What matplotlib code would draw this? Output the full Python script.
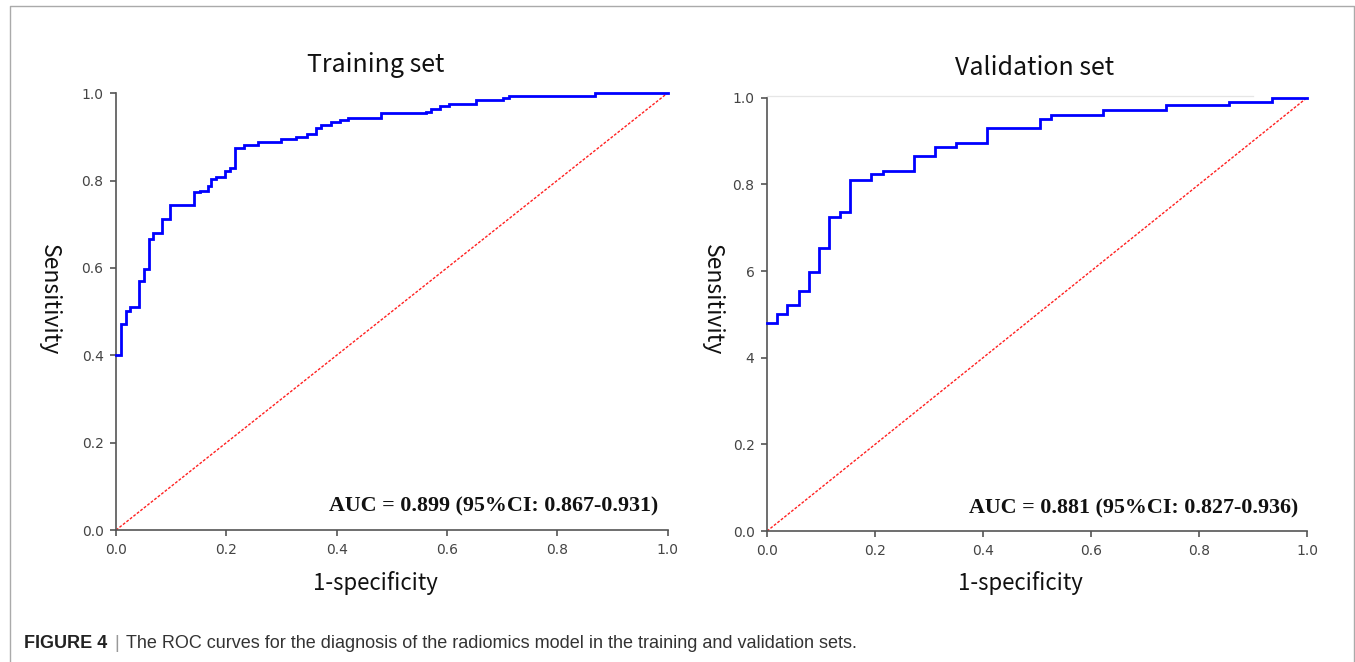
import matplotlib
matplotlib.use("Agg")
import matplotlib.pyplot as plt
from matplotlib.lines import Line2D

# -------------------------------------------------------------
# Data (step corners, steps-post)
# -------------------------------------------------------------
train_fpr = [0.0, 0.0085, 0.0175, 0.0254, 0.0417, 0.0508, 0.0598, 0.0677, 0.0834,
             0.098, 0.142, 0.152, 0.166, 0.173, 0.181, 0.198, 0.207, 0.216, 0.232,
             0.257, 0.299, 0.326, 0.346, 0.3627, 0.371, 0.390, 0.406, 0.421, 0.480,
             0.563, 0.572, 0.5875, 0.604, 0.653, 0.702, 0.713, 0.8685, 1.0]
train_tpr = [0.40, 0.471, 0.501, 0.511, 0.570, 0.597, 0.666, 0.681, 0.713,
             0.743, 0.773, 0.776, 0.787, 0.803, 0.809, 0.822, 0.828, 0.874, 0.881,
             0.888, 0.894, 0.900, 0.906, 0.919, 0.926, 0.933, 0.938, 0.942, 0.954,
             0.957, 0.963, 0.970, 0.975, 0.984, 0.988, 0.993, 1.0, 1.0]

valid_fpr = [0.0, 0.018, 0.0377, 0.0586, 0.077, 0.097, 0.1154, 0.135, 0.1537,
             0.193, 0.214, 0.272, 0.3105, 0.35, 0.407, 0.5056, 0.525, 0.6216,
             0.739, 0.856, 0.9346, 1.0]
valid_tpr = [0.481, 0.502, 0.522, 0.554, 0.597, 0.6525, 0.725, 0.736, 0.811,
             0.823, 0.831, 0.865, 0.8855, 0.8955, 0.929, 0.9516, 0.961, 0.9724,
             0.9824, 0.991, 1.0, 1.0]

ticks = [0.0, 0.2, 0.4, 0.6, 0.8, 1.0]
train_yticklabels = ["0.0", "0.2", "0.4", "0.6", "0.8", "1.0"]
valid_yticklabels = ["0.0", "0.2", "4", "6", "0.8", "1.0"]
xticklabels = ["0.0", "0.2", "0.4", "0.6", "0.8", "1.0"]

titles = ["Training set", "Validation set"]
auc_texts = ["AUC = 0.899 (95%CI: 0.867-0.931)", "AUC = 0.881 (95%CI: 0.827-0.936)"]

W, H = 1355, 662
fig = plt.figure(figsize=(W / 100, H / 100), dpi=100)
fig.patch.set_facecolor("white")

# axes rectangles in pixels: left, bottom(y from top), width, height
boxes = [(116, 530.1, 551.5, 437.0), (767, 531.1, 540.0, 433.4)]
curves = [(train_fpr, train_tpr), (valid_fpr, valid_tpr)]
ylabels_list = [train_yticklabels, valid_yticklabels]
# label / title anchors (axes fraction), tuned per panel
title_pos = [(0.47, 1.064), (0.496, 1.0685)]
ylab_pos = [(-0.12, 0.527), (-0.102, 0.533)]
xlab_pos = [(0.47, -0.121), (0.469, -0.12)]

label_font = ["Noto Sans CJK SC", "DejaVu Sans"]
spine_c = "#555555"

for i, (x0, yb, w, h) in enumerate(boxes):
    ax = fig.add_axes([x0 / W, (H - yb) / H, w / W, h / H])
    ax.set_xlim(0, 1)
    ax.set_ylim(0, 1)
    fpr, tpr = curves[i]
    ax.plot([0, 1], [0, 1], color="#ff2020", lw=1.0, linestyle=(0, (2, 1.2)))
    ax.plot(fpr, tpr, drawstyle="steps-post", color="#0000ff", lw=2.0,
            solid_joinstyle="miter", clip_on=False, zorder=3)
    if i == 1:
        ax.plot([0, 0.9], [1.004, 1.004], color="#e6e6e6", lw=0.9, clip_on=False, zorder=1)
    for s in ["top", "right"]:
        ax.spines[s].set_visible(False)
    for s in ["left", "bottom"]:
        ax.spines[s].set_color(spine_c)
        ax.spines[s].set_linewidth(1.2)
    ax.set_xticks(ticks)
    ax.set_yticks(ticks)
    ax.set_xticklabels(xticklabels)
    ax.set_yticklabels(ylabels_list[i])
    ax.tick_params(direction="out", length=4, width=1.2, color=spine_c,
                   labelsize=10, labelcolor="#444444", pad=5)
    ax.set_xlabel("1-specificity", fontsize=16, family=label_font, color="#111111",
                  va="center", ha="center")
    ax.xaxis.set_label_coords(*xlab_pos[i])
    ax.set_ylabel("Sensitivity", fontsize=16.5, family=label_font, color="#111111",
                  rotation=-90, va="center", ha="center")
    ax.yaxis.set_label_coords(*ylab_pos[i])
    ax.text(*title_pos[i], titles[i], transform=ax.transAxes, ha="center", va="center",
            fontsize=18, family=label_font, color="#111111")
    ax.text(0.984, 0.053, auc_texts[i], transform=ax.transAxes, ha="right", va="center",
            fontsize=15.8, fontweight="bold", family="Liberation Serif", color="#111111")

# page frame
fig.add_artist(Line2D([9.5 / W, 9.5 / W, 1353.5 / W, 1353.5 / W],
                      [0, 1 - 6 / H, 1 - 6 / H, 0], transform=fig.transFigure,
                      color="#aaaaaa", lw=1.0))

# caption
cy = 1 - 643 / H
t1 = fig.text(24 / W, cy, "FIGURE 4", fontsize=13, fontweight="bold",
              family="Liberation Sans", color="#222222", va="center")
fig.canvas.draw()
bb = t1.get_window_extent()
t2 = fig.text((bb.x1 + 7) / W, cy, "|", fontsize=13, family="Liberation Sans",
              color="#999999", va="center")
fig.canvas.draw()
bb2 = t2.get_window_extent()
fig.text((bb2.x1 + 7) / W, cy,
         "The ROC curves for the diagnosis of the radiomics model in the training and validation sets.",
         fontsize=13, family="Liberation Sans", color="#333333", va="center")

fig.savefig("out.png", dpi=100, facecolor="white")
